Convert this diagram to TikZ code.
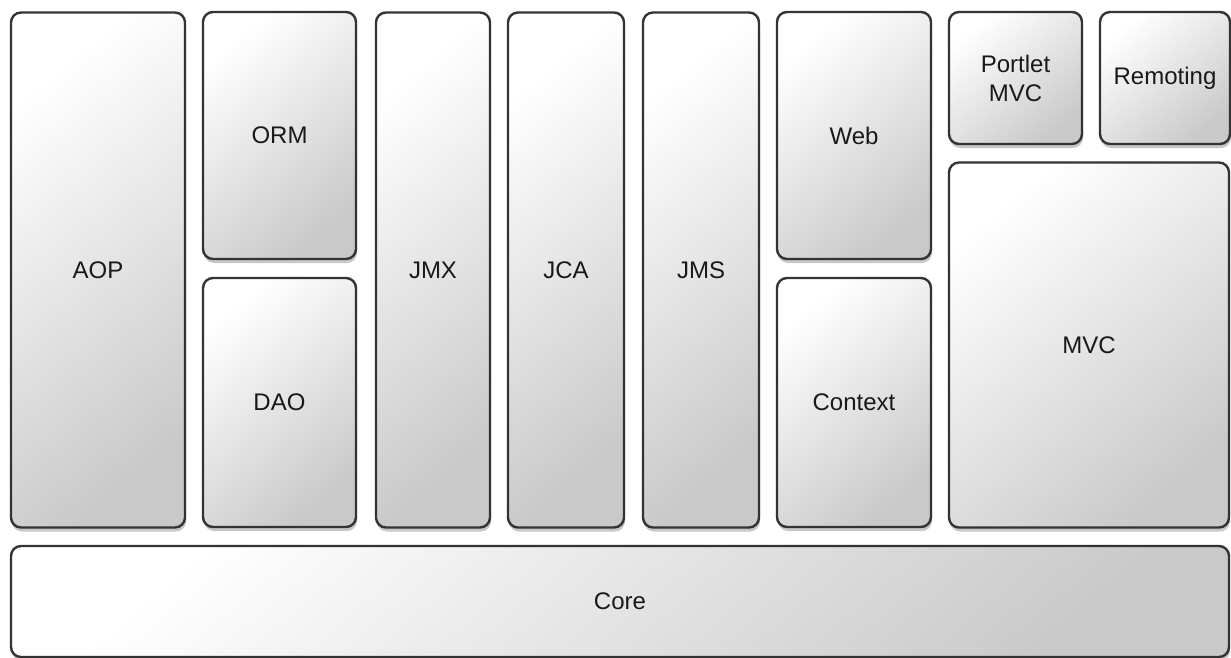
\documentclass[tikz,border=0pt]{standalone}
\usepackage{fontspec}
\setmainfont{Liberation Sans}
\usetikzlibrary{shadows}
\begin{document}
\begin{tikzpicture}[x=1pt,y=-1pt,
  mod/.style={draw=black!80, line width=2.4pt, rounded corners=10pt,
    top color=white, bottom color=black!21, shading angle=40,
    drop shadow={shadow xshift=1pt, shadow yshift=-4pt, opacity=0.22, fill=black},
    font=\fontsize{24}{29}\selectfont, align=center, inner sep=0pt, text=black!90}]
\useasboundingbox[fill=white] (0,0) rectangle (1231,658);
\node[mod, minimum width=174pt, minimum height=515pt] (aop) at (98,270) {AOP};
\node[mod, minimum width=153pt, minimum height=247pt] (orm) at (279.5,135.5) {ORM};
\node[mod, minimum width=153pt, minimum height=249pt] (dao) at (279.5,402.5) {DAO};
\node[mod, minimum width=114pt, minimum height=515pt] (jmx) at (433,270) {JMX};
\node[mod, minimum width=116pt, minimum height=515pt] (jca) at (566,270) {JCA};
\node[mod, minimum width=116pt, minimum height=515pt] (jms) at (701,270) {JMS};
\node[mod, minimum width=154pt, minimum height=247pt] (web) at (854,135.5) {Web};
\node[mod, minimum width=154pt, minimum height=249pt] (ctx) at (854,402.5) {Context};
\node[mod, minimum width=133pt, minimum height=132pt] (portlet) at (1015.5,78) {Portlet\\MVC};
\node[mod, minimum width=130pt, minimum height=132pt] (remoting) at (1165,78) {Remoting};
\node[mod, minimum width=280pt, minimum height=365pt] (mvc) at (1089,345) {MVC};
\node[mod, minimum width=1218pt, minimum height=111pt] (core) at (620,601.5) {Core};
\end{tikzpicture}
\end{document}
